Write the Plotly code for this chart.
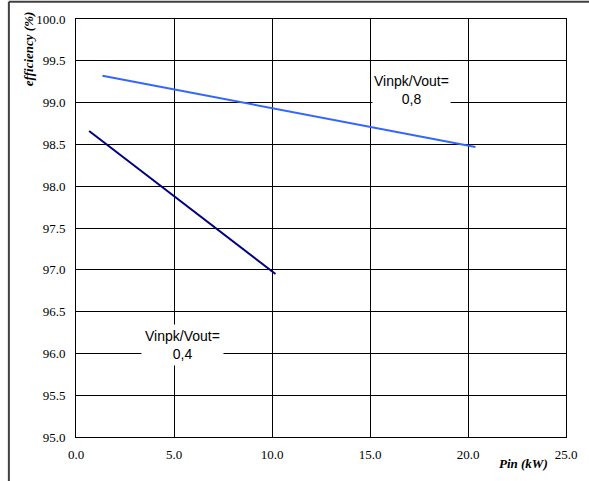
import plotly.graph_objects as go

# Measured efficiency vs. input power for two Vinpk/Vout ratios
pin_04 = [0.67, 10.18]
eff_04 = [98.66, 96.95]
pin_08 = [1.35, 20.38]
eff_08 = [99.32, 98.47]

x_ticks = [0, 5, 10, 15, 20, 25]
x_tick_text = ["0.0", "5.0", "10.0", "15.0", "20.0", "25.0"]
y_ticks = [95.0, 95.5, 96.0, 96.5, 97.0, 97.5, 98.0, 98.5, 99.0, 99.5, 100.0]
y_tick_text = [f"{v:.1f}" for v in y_ticks]

serif = "Liberation Serif"
sans = "Liberation Sans"

fig = go.Figure()
fig.add_trace(go.Scatter(x=pin_04, y=eff_04, mode="lines",
                         line=dict(color="#000080", width=2), showlegend=False))
fig.add_trace(go.Scatter(x=pin_08, y=eff_08, mode="lines",
                         line=dict(color="#3366FF", width=2), showlegend=False))

axis_common = dict(showgrid=True, gridcolor="black", gridwidth=1,
                   showline=True, linecolor="black", linewidth=1, mirror=True,
                   zeroline=False, ticks="outside", tickcolor="rgba(0,0,0,0)",
                   tickfont=dict(family=serif, size=13, color="black"))

fig.update_xaxes(range=[0, 25], tickvals=x_ticks, ticktext=x_tick_text,
                 ticklen=5, **axis_common)
fig.update_yaxes(range=[95, 100], tickvals=y_ticks, ticktext=y_tick_text,
                 ticklen=7, **axis_common)

fig.add_annotation(x=17.1, y=99.15, xref="x", yref="y",
                   text="Vinpk/Vout=<br>0,8", showarrow=False,
                   font=dict(family=sans, size=14, color="black"),
                   bgcolor="white", borderpad=1)
fig.add_annotation(x=5.45, y=96.10, xref="x", yref="y",
                   text="Vinpk/Vout=<br>0,4", showarrow=False,
                   font=dict(family=sans, size=14, color="black"),
                   bgcolor="white", borderpad=3)

# axis titles
fig.add_annotation(x=-0.097, y=0.929, xref="paper", yref="paper",
                   text="<b><i>efficiency (%)</i></b>", textangle=-90, showarrow=False,
                   xanchor="center", yanchor="middle",
                   font=dict(family=serif, size=13, color="black"))
fig.add_annotation(x=0.914, y=-0.0639, xref="paper", yref="paper",
                   text="<b><i>Pin (kW)</i></b>", showarrow=False,
                   xanchor="center", yanchor="middle",
                   font=dict(family=serif, size=13, color="black"))

# outer chart frame
fig.add_shape(type="line", xref="paper", yref="paper", x0=-0.137, x1=1.2,
              y0=1.0414, y1=1.0414, line=dict(color="#404040", width=2))
fig.add_shape(type="line", xref="paper", yref="paper", x0=-0.137, x1=-0.137,
              y0=1.0414, y1=-0.2, line=dict(color="#404040", width=2))

fig.update_layout(width=589, height=481,
                  margin=dict(l=76, r=17, t=19, b=44),
                  plot_bgcolor="white", paper_bgcolor="white")

fig.write_html("out.html")
